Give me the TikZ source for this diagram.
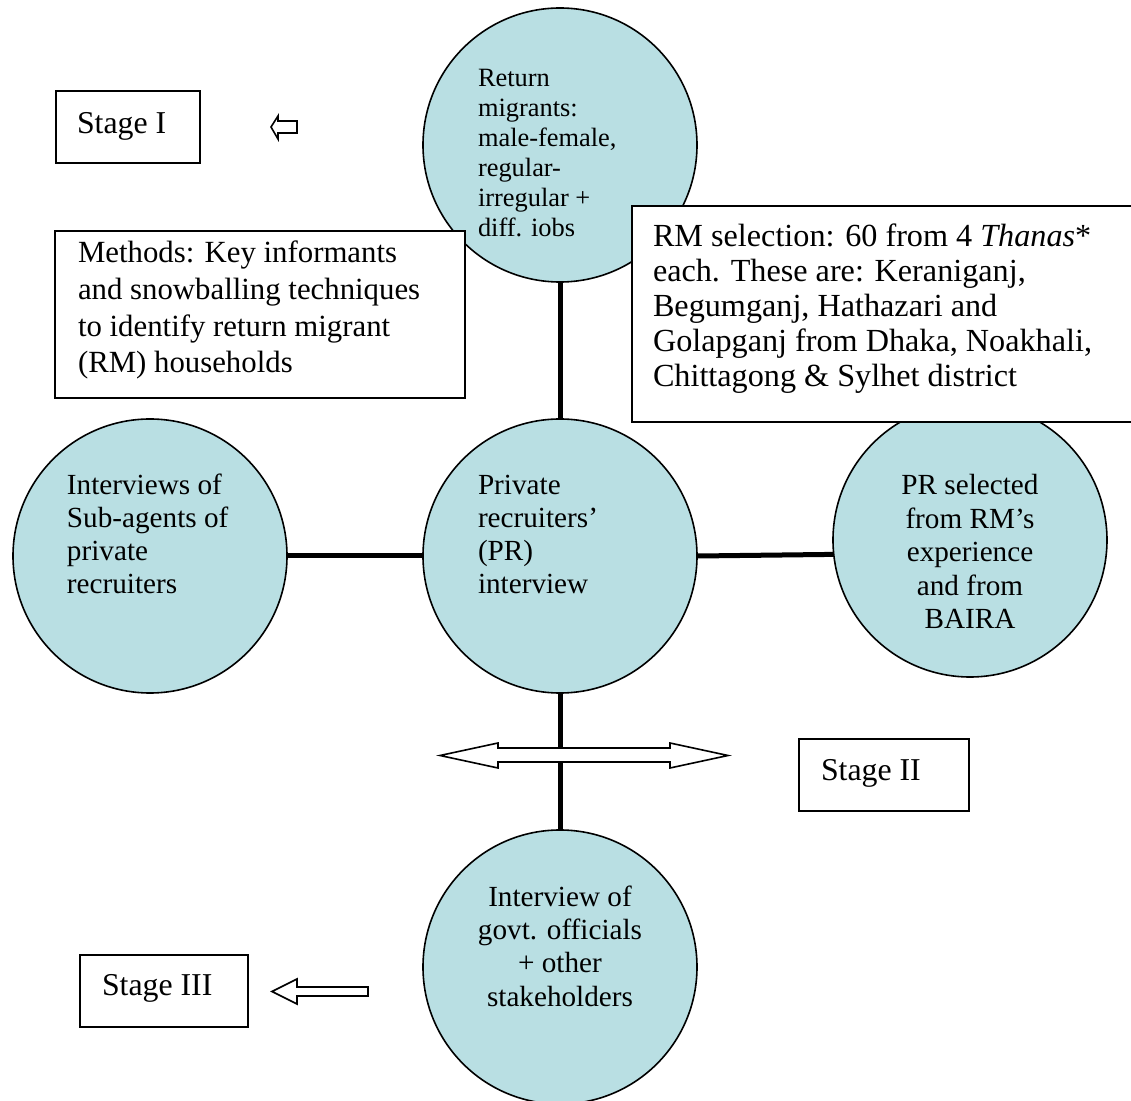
\documentclass[tikz,border=0pt]{standalone}
\usepackage{fontspec}
\setmainfont{Liberation Serif}
\definecolor{bub}{HTML}{B9DFE3}
\begin{document}
\begin{tikzpicture}[x=0.5pt,y=-0.5pt,
  bubble/.style={circle, draw=black, line width=0.8pt, fill=bub, minimum size=137pt, inner sep=0pt},
  link/.style={line width=2.5pt},
  frame/.style={draw=black, line width=1pt, fill=white},
  txt/.style={inner sep=0pt, outer sep=0pt, align=left, anchor=north west},
  ctxt/.style={inner sep=0pt, outer sep=0pt, align=center, anchor=north},
  hollow/.style={draw=black, line width=0.8pt, fill=white, line join=miter},
  fcirc/.style={font=\fontsize{14.6}{16.5}\selectfont},
  ftop/.style={font=\fontsize{13.2}{15}\selectfont},
  fmeth/.style={font=\fontsize{15.4}{18.3}\selectfont},
  frm/.style={font=\fontsize{16.1}{17.5}\selectfont},
  fstage/.style={font=\fontsize{15.9}{18}\selectfont}
]
\useasboundingbox (0,0) rectangle (1131,1101);

% circles
\node[bubble] (top) at (560,145) {};
\node[bubble] (mid) at (560,556) {};
\node[bubble] (lft) at (150,556) {};
\node[bubble] (rgt) at (970,540) {};
\node[bubble] (bot) at (560,967) {};

% connectors
\draw[link] (top.south) -- (mid.north);
\draw[link] (lft.east) -- (mid.west);
\draw[link] (mid.east) -- (rgt.186.7);
\draw[link] (mid.south) -- (bot.north);

% boxes
\draw[frame] (55,231) rectangle (465,398);
\draw[frame] (632,206) rectangle (1136,422);
\draw[frame] (56,91) rectangle (200,163);
\draw[frame] (799,739) rectangle (969,811);
\draw[frame] (80,955) rectangle (248,1027);

% texts
\node[txt, ftop] (ttop) at (478,67.2) {\rule{0pt}{0.75em}Return\\migrants:\\male-female,\\regular-\\irregular +\\diff. iobs};
\node[txt, fcirc] (tlft) at (67,473.1) {\rule{0pt}{0.75em}Interviews of\\Sub-agents of\\private\\recruiters};
\node[txt, fcirc] (tmid) at (478,473.1) {\rule{0pt}{0.75em}Private\\recruiters’\\(PR)\\interview};
\node[ctxt, font=\fontsize{14.6}{16.75}\selectfont] (trgt) at (970,473.1) {\rule{0pt}{0.75em}PR selected\\from RM’s\\experience\\and from\\BAIRA};
\node[ctxt, font=\fontsize{14.6}{16.7}\selectfont] (tbot) at (560,884.1) {\rule{0pt}{0.75em}Interview of\\govt. officials\\+ other\\stakeholders};
\node[txt, fmeth] (tmeth) at (78,239.9) {\rule{0pt}{0.75em}Methods: Key informants\\and snowballing techniques\\to identify return migrant\\(RM) households};
\node[txt, frm] (trm) at (653,222.85) {\rule{0pt}{0.75em}RM selection: 60 from 4 \textit{Thanas}*\\each. These are: Keraniganj,\\Begumganj, Hathazari and\\Golapganj from Dhaka, Noakhali,\\Chittagong \& Sylhet district};
\node[txt, fstage] (s1) at (77,109.2) {\rule{0pt}{0.75em}Stage I};
\node[txt, fstage] (s2) at (821,756.2) {\rule{0pt}{0.75em}Stage II};
\node[txt, fstage] (s3) at (102,971.2) {\rule{0pt}{0.75em}Stage III};

% hollow arrows
\draw[hollow] (271,127) -- (278,116) -- (278,121) -- (297,121) -- (297,133) -- (278,133) -- (278,139) -- cycle;
\draw[hollow] (440,755.5) -- (498,743) -- (498,748) -- (670,748) -- (670,743) -- (728,755.5) -- (670,768) -- (670,762) -- (498,762) -- (498,768) -- cycle;
\draw[hollow] (272,991.5) -- (297,979) -- (297,987) -- (368,987) -- (368,996) -- (297,996) -- (297,1004) -- cycle;
\end{tikzpicture}
\end{document}
